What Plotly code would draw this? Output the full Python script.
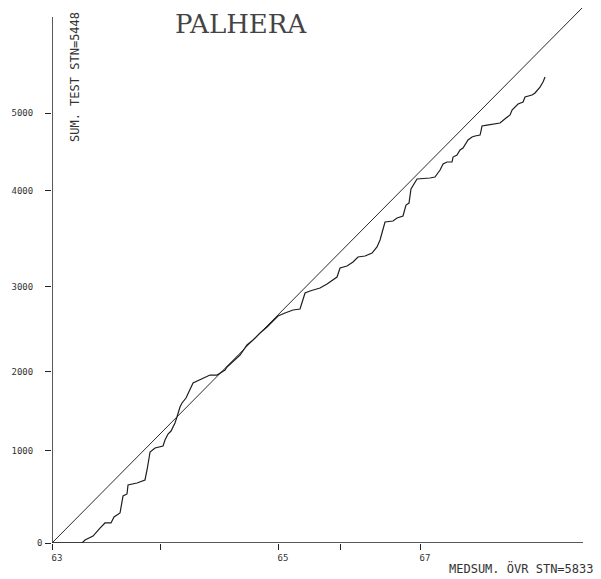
import plotly.graph_objects as go

# Double-mass curve: cumulative test-station sum vs cumulative median sum of other stations
cum_other = [0, 349, 384, 477, 558, 616, 686, 721, 791, 814, 826, 872, 884, 988, 1081, 1105,
             1140, 1198, 1291, 1314, 1349, 1384, 1430, 1453, 1488, 1512, 1558, 1640, 1663, 1744,
             1837, 1919, 1953, 2012, 2035, 2151, 2186, 2267, 2337, 2419, 2500, 2593, 2628, 2709,
             2802, 2884, 2942, 3000, 3116, 3198, 3256, 3314, 3349, 3430, 3500, 3558, 3640, 3721,
             3779, 3814, 3872, 3965, 4012, 4081, 4116, 4151, 4174, 4244, 4395, 4453, 4512, 4547,
             4593, 4651, 4663, 4709, 4744, 4779, 4837, 4884, 4919, 4977, 4988, 5000, 5058, 5174,
             5209, 5279, 5326, 5349, 5384, 5419, 5477, 5500, 5581, 5616, 5674, 5709, 5733]
cum_test = [0, 0, 35, 81, 174, 233, 233, 302, 349, 465, 547, 570, 674, 698, 733, 849,
            1058, 1105, 1128, 1198, 1267, 1302, 1395, 1465, 1581, 1628, 1686, 1860, 1872, 1907,
            1953, 1953, 1977, 2012, 2047, 2163, 2186, 2302, 2360, 2442, 2512, 2605, 2640, 2674,
            2709, 2721, 2907, 2930, 2965, 3012, 3058, 3093, 3198, 3221, 3267, 3326, 3337, 3372,
            3442, 3523, 3733, 3744, 3779, 3802, 3930, 3953, 4116, 4233, 4244, 4256, 4337, 4407,
            4430, 4430, 4488, 4512, 4570, 4593, 4686, 4721, 4733, 4744, 4791, 4849, 4860, 4872,
            4884, 4942, 4977, 5035, 5070, 5105, 5128, 5186, 5209, 5233, 5302, 5360, 5419]

# 1:1 reference line end
diag_x = [0, 6163]
diag_y = [0, 6221]

# Year tick positions along cumulative x axis
year_vals = [0, 1256, 2628, 3349, 4279]
year_text = ["63", "", "65", "", "67"]

# Y tick positions (as drawn on the original plot)
ytick_vals = [0, 1070, 1990, 2980, 4100, 5000]
ytick_text = ["", "1000", "2000", "3000", "4000", "5000"]
zero_label = "0"

x_max = 6174
y_max = 6221
y_axis_top = 6116

fig = go.Figure()
fig.add_trace(go.Scatter(x=diag_x, y=diag_y, mode="lines",
                         line=dict(color="#2a2a2a", width=1), hoverinfo="skip"))
fig.add_trace(go.Scatter(x=cum_other, y=cum_test, mode="lines",
                         line=dict(color="#1e1e1e", width=1.2), hoverinfo="skip"))

# axis lines
fig.add_shape(type="line", xref="x", yref="y", x0=0, y0=0, x1=0, y1=y_axis_top,
              line=dict(color="#222", width=1.5))
fig.add_shape(type="line", xref="x", yref="y", x0=0, y0=0, x1=x_max, y1=0,
              line=dict(color="#222", width=1.5))

mono = "DejaVu Sans Mono"
fig.update_layout(
    width=601, height=579,
    margin=dict(l=52, r=18, t=8, b=36),
    plot_bgcolor="white", paper_bgcolor="white",
    showlegend=False,
    xaxis=dict(range=[0, x_max], showgrid=False, zeroline=False, showline=False,
               tickmode="array", tickvals=year_vals, ticktext=year_text,
               ticks="outside", ticklen=6, tickwidth=1, tickcolor="#222",
               ticklabelshift=5,
               tickfont=dict(family=mono, size=9, color="#333")),
    yaxis=dict(range=[0, y_max], showgrid=False, zeroline=False, showline=False,
               tickmode="array", tickvals=ytick_vals, ticktext=ytick_text,
               ticks="outside", ticklen=6, tickwidth=1, tickcolor="#222",
               ticklabelstandoff=10,
               tickfont=dict(family=mono, size=9, color="#333")),
    annotations=[
        dict(text="PALHERA", xref="paper", yref="paper", x=0.356, y=0.970,
             xanchor="center", yanchor="middle", showarrow=False,
             font=dict(family="DejaVu Serif", size=26, color="#444")),
        dict(text="SUM. TEST STN=5448", xref="paper", yref="paper", x=0.0433, y=0.871,
             xanchor="center", yanchor="middle", showarrow=False, textangle=-90,
             font=dict(family=mono, size=12, color="#333")),
        dict(text="MEDSUM. ÖVR STN=5833", xref="paper", yref="paper", x=0.885, y=-0.0467,
             xanchor="center", yanchor="middle", showarrow=False,
             font=dict(family=mono, size=12, color="#333")),
        dict(text=zero_label, xref="paper", yref="y", x=-0.0226, y=0,
             xanchor="center", yanchor="middle", showarrow=False,
             font=dict(family=mono, size=9, color="#333")),
    ],
)

fig.write_html("out.html")
